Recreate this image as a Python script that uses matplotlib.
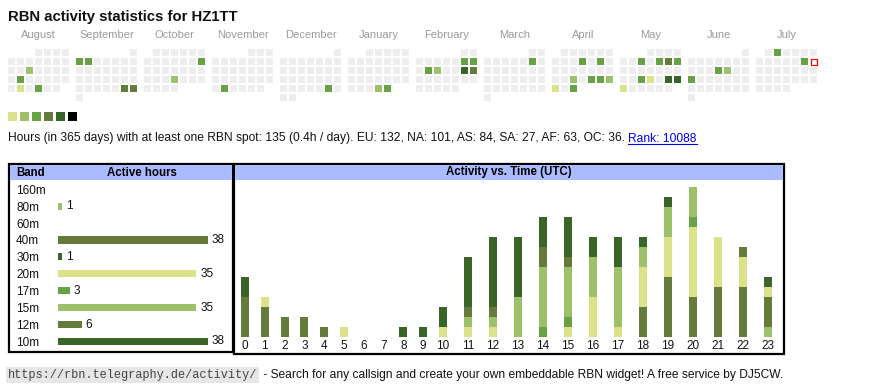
import datetime as dt
import numpy as np
import matplotlib.pyplot as plt
from matplotlib.patches import Rectangle

plt.rcParams['font.family'] = ['Liberation Sans', 'DejaVu Sans']

W, H = 870, 390

# calendar: Aug 2024 .. Jul 2025, level 1..6 per active day
months = ['August', 'September', 'October', 'November', 'December', 'January',
          'February', 'March', 'April', 'May', 'June', 'July']
month_years = [2024] * 5 + [2025] * 7
month_nums = [8, 9, 10, 11, 12, 1, 2, 3, 4, 5, 6, 7]
active_days = {
    '2024-08-14': 2, '2024-08-20': 3, '2024-08-27': 1, '2024-08-29': 3,
    '2024-09-02': 3, '2024-09-03': 3, '2024-09-28': 4, '2024-09-29': 4,
    '2024-10-13': 3, '2024-10-24': 2, '2024-11-26': 3, '2024-12-28': 3,
    '2025-01-30': 2, '2025-01-31': 3,
    '2025-02-08': 3, '2025-02-09': 3, '2025-02-11': 3, '2025-02-12': 2,
    '2025-02-15': 5, '2025-02-16': 4, '2025-03-08': 3,
    '2025-04-10': 3, '2025-04-12': 3, '2025-04-23': 2, '2025-04-25': 3,
    '2025-04-26': 3, '2025-04-27': 2, '2025-04-28': 1, '2025-04-30': 3,
    '2025-05-07': 3, '2025-05-09': 3, '2025-05-10': 4, '2025-05-11': 3,
    '2025-05-21': 3, '2025-05-22': 1, '2025-05-24': 5, '2025-05-25': 5,
    '2025-05-26': 1, '2025-06-12': 3, '2025-06-13': 2, '2025-06-16': 3,
    '2025-07-02': 3, '2025-07-12': 3,
}
today = '2025-07-13'
level_colors = ['#dbe28a', '#9cc16a', '#69a146', '#657b3b', '#3b6428', '#000000']

# hourly activity per band (UTC hours 0..23)
hours = list(range(24))
h160 = [0] * 24
h80 = [0] * 23 + [1]
h60 = [0] * 24
h40 = [4, 3, 2, 2, 1, 0, 0, 0, 0, 0, 0, 0, 0, 0, 0, 0, 0, 0, 3, 6, 4, 5, 5, 3]
h30 = [0, 0, 0, 0, 0, 0, 0, 0, 1, 0, 0, 0, 0, 0, 0, 0, 0, 0, 0, 0, 0, 0, 0, 0]
h20 = [0, 1, 0, 0, 0, 1, 0, 0, 0, 0, 1, 1, 1, 0, 0, 1, 4, 1, 4, 4, 7, 5, 3, 1]
h17 = [0, 0, 0, 0, 0, 0, 0, 0, 0, 0, 0, 0, 0, 0, 1, 1, 0, 0, 0, 0, 1, 0, 0, 0]
h15 = [0, 0, 0, 0, 0, 0, 0, 0, 0, 0, 0, 1, 1, 4, 6, 5, 4, 6, 2, 3, 3, 0, 0, 0]
h12 = [0, 0, 0, 0, 0, 0, 0, 0, 0, 0, 0, 1, 1, 0, 2, 1, 0, 0, 0, 0, 0, 0, 1, 0]
h10 = [2, 0, 0, 0, 0, 0, 0, 0, 0, 1, 2, 5, 7, 6, 3, 4, 2, 3, 1, 1, 0, 0, 0, 1]

bands = ['160m', '80m', '60m', '40m', '30m', '20m', '17m', '15m', '12m', '10m']
band_series = [h160, h80, h60, h40, h30, h20, h17, h15, h12, h10]
band_colors = ['#9cc16a', '#9cc16a', '#657b3b', '#657b3b', '#3b6428',
               '#dbe28a', '#69a146', '#9cc16a', '#657b3b', '#3b6428']

summary = ('Hours (in 365 days) with at least one RBN spot: 135 (0.4h / day). '
           'EU: 132, NA: 101, AS: 84, SA: 27, AF: 63, OC: 36. ')
rank = 'Rank: 10088'

fig = plt.figure(figsize=(W / 100, H / 100), dpi=100)
bg = fig.add_axes([0, 0, 1, 1])
bg.set_xlim(0, W)
bg.set_ylim(H, 0)
bg.axis('off')

bg.text(8, 21.5, 'RBN activity statistics for HZ1TT', fontsize=10.7,
        fontweight='bold', va='baseline', color='#111')

# calendar
for m, (name, yr, mo) in enumerate(zip(months, month_years, month_nums)):
    x0 = 8.3 + 68 * m
    bg.text(x0 + 30.5, 38.5, name, fontsize=8, color='#9a9a9a',
            ha='center', va='baseline')
    first = dt.date(yr, mo, 1)
    nxt = dt.date(yr + (mo == 12), mo % 12 + 1, 1)
    for d in range((nxt - first).days):
        day = first + dt.timedelta(days=d)
        row, col = divmod(first.weekday() + d, 7)
        key = day.isoformat()
        x, y = x0 + 9 * col, 49.3 + 9 * row
        if key == today:
            bg.add_patch(Rectangle((x + 0.5, y + 0.5), 6, 6, facecolor='white',
                                   edgecolor='#ff0000', linewidth=0.9))
        else:
            c = level_colors[active_days[key] - 1] if key in active_days else '#eeeeee'
            bg.add_patch(Rectangle((x, y), 7, 7, facecolor=c, linewidth=0))

for i, c in enumerate(level_colors):
    bg.add_patch(Rectangle((8.3 + 12 * i, 112), 9, 9, facecolor=c, linewidth=0))

# summary line with link
fig.canvas.draw()
r = fig.canvas.get_renderer()
t = bg.text(8, 141.5, summary, fontsize=8.65, va='baseline', color='#111')
ext = t.get_window_extent(r)
x_link = ext.x1
lk = bg.text(x_link, 141.5, rank, fontsize=8.65, va='baseline', color='#0000ee')
lt = lk.get_window_extent(r)
bg.plot([x_link, lt.x1], [143.5, 143.5], color='#0000ee', lw=0.8)

# boxes
bg.add_patch(Rectangle((9.2, 163.5), 223.6, 188.2, fill=False, edgecolor='black', lw=1.6))
bg.add_patch(Rectangle((234, 163.5), 549.7, 190.3, fill=False, edgecolor='black', lw=1.6))
bg.add_patch(Rectangle((10, 164.5), 222, 15.5, facecolor='#aabbff', linewidth=0))
bg.add_patch(Rectangle((235, 164.5), 548, 15.5, facecolor='#aabbff', linewidth=0))
bg.text(16, 172.5, 'Band', fontsize=8.3, fontweight='bold', va='center')
bg.text(141.7, 172.5, 'Active hours', fontsize=8.3, fontweight='bold', va='center', ha='center')
bg.text(509, 172.5, 'Activity vs. Time (UTC)', fontsize=8.3, fontweight='bold',
        va='center', ha='center')

# band table bars
totals = [sum(s) for s in band_series]
row_h = 16.9
top = 189.3 - row_h / 2
bot = top + row_h * len(bands)
px_per_hour = 3.95
axb = fig.add_axes([58 / W, (H - bot) / H, 170 / W, (bot - top) / H])
axb.set_xlim(0, 170 / px_per_hour)
axb.set_ylim(len(bands) - 0.5, -0.5)
for i, (v, c) in enumerate(zip(totals, band_colors)):
    if v > 0:
        axb.barh(i, v, height=0.42, color=c, linewidth=0)
        axb.annotate(str(v), (v, i), xytext=(2.8, 0), textcoords='offset points',
                     va='center', fontsize=8.5, color='#111')
axb.set_yticks(range(len(bands)))
axb.set_yticklabels(bands, fontsize=8.5, color='#111', ha='left')
axb.tick_params(axis='y', length=0, pad=30.2)
axb.set_xticks([])
for s in axb.spines.values():
    s.set_visible(False)
axb.patch.set_alpha(0)

# activity vs time
base = 336.7
unit = 10
axt_top = 181
axa = fig.add_axes([235 / W, (H - base) / H, 547 / W, (base - axt_top) / H])
gaps = [19.8 if h <= 10 else 25 for h in hours[1:]]
centers = 10 + np.concatenate([[0], np.cumsum(gaps)])
axa.set_xlim(0, 547)
axa.set_ylim(0, (base - axt_top) / unit)
bottom = np.zeros(24)
for s, c in zip(band_series, band_colors):
    vals = np.array(s)
    axa.bar(centers, vals, width=8, bottom=bottom, color=c, linewidth=0)
    bottom += vals
axa.set_xticks(centers)
axa.set_xticklabels([str(h) for h in hours], fontsize=8.5, color='#111')
axa.tick_params(axis='x', length=0, pad=2.5)
axa.set_yticks([])
for s in axa.spines.values():
    s.set_visible(False)
axa.patch.set_alpha(0)

# footer
u = bg.text(8, 378, 'https://rbn.telegraphy.de/activity/', family='Liberation Mono',
            fontsize=8.6, va='baseline', color='#444',
            bbox=dict(boxstyle='square,pad=0.15', facecolor='#e6e6e6', edgecolor='none'))
ue = u.get_window_extent(r)
bg.text(ue.x1 + 3, 378, ' - Search for any callsign and create your own embeddable RBN widget! '
        'A free service by DJ5CW.', fontsize=8.65, va='baseline', color='#111')

fig.savefig('out.png', dpi=100)
